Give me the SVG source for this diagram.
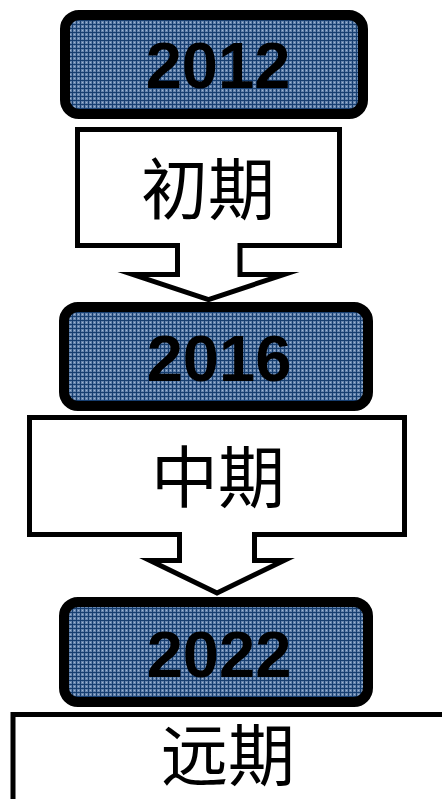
<svg xmlns="http://www.w3.org/2000/svg" width="442" height="799" viewBox="0 0 442 799">
<style>
.year{stroke:#000;stroke-width:10;fill:url(#grid)}
.ytxt{font-family:"Liberation Sans",Arial,sans-serif;font-weight:bold;font-size:65px;fill:#000;text-anchor:middle}
.arrow{fill:#fff;stroke:#000;stroke-width:5;stroke-linejoin:miter;stroke-miterlimit:10}
.ctxt{font-family:"Noto Sans CJK SC","Noto Sans CJK JP",sans-serif;font-size:67px;fill:#000;text-anchor:middle}
</style>
<defs>
<pattern id="grid" width="4" height="4" patternUnits="userSpaceOnUse">
<rect width="4" height="4" fill="#6584ad"/>
<rect x="0" y="0" width="4" height="1" fill="#163e70"/>
<rect x="0" y="0" width="1" height="4" fill="#163e70"/>
<rect x="2" y="2" width="1" height="1" fill="#9fb6d3"/>
</pattern>
</defs>
<rect width="442" height="799" fill="#fff"/>
<g id="stage-early">
<path class="arrow" d="M77.5 129.5 H339.5 V245.5 H240 V274.5 H284 L208.5 299.5 L133 274.5 H177.5 V245.5 H77.5 Z"/>
<text class="ctxt" x="208" y="214">初期</text>
</g>
<g id="stage-mid">
<path class="arrow" d="M29.5 417.5 H404.5 V534.5 H254.5 V560.5 H284 L217 593 L150 560.5 H179.5 V534.5 H29.5 Z"/>
<text class="ctxt" x="218" y="502">中期</text>
</g>
<g id="stage-far">
<rect class="arrow" x="13" y="714.5" width="460" height="100" stroke-width="6"/>
<text class="ctxt" x="228" y="780">远期</text>
</g>
<g id="year-2012">
<rect class="year" x="65" y="15" width="298" height="99" rx="14"/>
<text class="ytxt" x="218" y="88">2012</text>
</g>
<g id="year-2016">
<rect class="year" x="64" y="307" width="304" height="99" rx="14"/>
<text class="ytxt" x="219" y="381">2016</text>
</g>
<g id="year-2022">
<rect class="year" x="64" y="602" width="304" height="100" rx="14"/>
<text class="ytxt" x="219" y="677">2022</text>
</g>
</svg>
